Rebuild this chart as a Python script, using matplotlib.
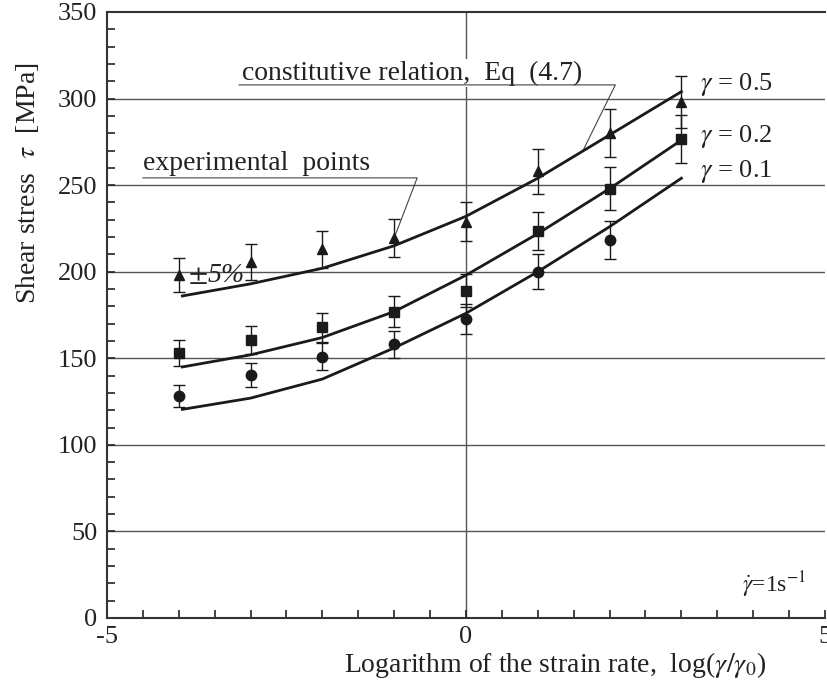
import numpy as np
import matplotlib.pyplot as plt
from matplotlib.ticker import MultipleLocator

plt.rcParams['font.family'] = ['Liberation Serif', 'DejaVu Serif']
plt.rcParams['mathtext.fontset'] = 'stix'

# experimental points (log strain rate, shear stress in MPa)
x_pts = [-4, -3, -2, -1, 0, 1, 2, 3]
tau_05 = [198, 205.5, 213, 219.5, 229, 258, 280, 298]
tau_02 = [153, 160.5, 168, 177, 189, 223.5, 248, 276.5]
x_pts_01 = [-4, -3, -2, -1, 0, 1, 2]
tau_01 = [128, 140.5, 151, 158, 172.5, 200, 218.5]

# constitutive relation curves
x_curve = [-3.95, -3, -2, -1, 0, 1, 2, 3]
fit_05 = [186, 193, 202, 215, 232, 254, 279, 304]
fit_02 = [145, 152, 162, 177, 198, 222, 248, 276]
fit_01 = [120.5, 127, 138, 156, 176, 200, 226, 254]

err_frac = 0.05  # +-5 %

fig = plt.figure(figsize=(8.28, 6.82), dpi=100)
ax = fig.add_axes([107/828, 1 - 618/682, 718/828, 606/682])

# grid: horizontal every 50, vertical at 0
for yv in range(50, 350, 50):
    ax.axhline(yv, color='#555555', lw=1.0, zorder=1)
ax.axvline(0, color='#555555', lw=1.0, zorder=1)

# curves
for fit in (fit_05, fit_02, fit_01):
    ax.plot(x_curve, fit, color='#1a1a1a', lw=2.0, zorder=3)

# points with error bars
ms = 7.5
for xs, ys, mk in ((x_pts, tau_05, '^'), (x_pts, tau_02, 's'), (x_pts_01, tau_01, 'o')):
    ys = np.array(ys)
    ax.errorbar(xs, ys, yerr=ys * err_frac, fmt=mk, color='#1a1a1a', ms=ms,
                elinewidth=1.0, capsize=4, capthick=1.0, zorder=4)

ax.set_xlim(-5, 5)
ax.set_ylim(0, 350)
ax.set_xticks([-5, 0, 5])
ax.set_xticklabels(['-5', '0', '5'])
ax.set_yticks(range(0, 351, 50))
ax.xaxis.set_minor_locator(MultipleLocator(0.5))
ax.yaxis.set_minor_locator(MultipleLocator(10))
ax.tick_params(which='both', direction='in', labelsize=19, colors='#222222')
ax.tick_params(which='both', length=6, width=1.2)
ax.tick_params(axis='y', pad=7)
ax.tick_params(axis='x', pad=6)
ax.tick_params(top=False, right=False, which='both')
ax.spines['right'].set_visible(False)
for s in ('left', 'bottom', 'top'):
    ax.spines[s].set_linewidth(1.5)
    ax.spines[s].set_color('#333333')

ax.set_ylabel(r'Shear stress  $\tau$  [MPa]', fontsize=20, color='#222222')
ax.yaxis.set_label_coords(-0.092, 0.718)
ax.set_xlabel(r'Logarithm of the strain rate,  log($\gamma/\gamma_0$)', fontsize=20, color='#222222')
ax.xaxis.set_label_coords(0.624, -0.052)

# annotations
ax.text(-3.12, 311, 'constitutive relation,  Eq  (4.7)', fontsize=20, color='#222222',
        bbox=dict(facecolor='white', edgecolor='none', pad=1), zorder=2)
ax.plot([-3.16, 2.08, 1.63], [307.9, 307.9, 270], color='#444444', lw=0.8, zorder=2)
ax.text(-4.5, 259, 'experimental  points', fontsize=20, color='#222222', zorder=2)
ax.plot([-4.5, -0.68, -1.0], [254.2, 254.2, 219.5], color='#444444', lw=0.8, zorder=2)
ax.text(-3.87, 194, r'$\pm$5%', fontsize=20, style='italic', color='#222222', zorder=5)

for lab, yv in (('0.5', 305), ('0.2', 275), ('0.1', 254.8)):
    ax.text(3.26, yv, r'$\gamma$ = ' + lab, fontsize=19, color='#222222')
ax.text(3.84, 15, r'$\dot{\gamma}$=1s$^{-1}$', fontsize=17, color='#222222')

fig.savefig('out.png', dpi=100)
